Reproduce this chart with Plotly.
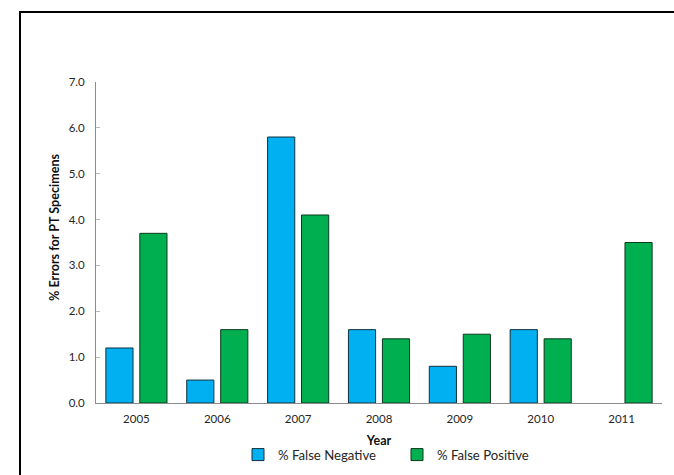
import plotly.graph_objects as go

years = ["2005", "2006", "2007", "2008", "2009", "2010", "2011"]
false_negative = [1.2, 0.5, 5.8, 1.6, 0.8, 1.6, None]
false_positive = [3.7, 1.6, 4.1, 1.4, 1.5, 1.4, 3.5]
y_ticks = [0, 1, 2, 3, 4, 5, 6, 7]

W, H = 674, 475
L, R, T, B = 96, 12, 82, 72
pw, ph = W - L - R, H - T - B

def px_x(p):
    return (p - L) / pw

def px_y(p):
    return (H - B - p) / ph

FONT = "Lato"
TXT = "#262626"

fig = go.Figure()
fig.add_trace(go.Bar(
    x=years, y=false_negative, name="% False Negative",
    marker=dict(color="#00B0F0", line=dict(color="#10303f", width=1)),
))
fig.add_trace(go.Bar(
    x=years, y=false_positive, name="% False Positive",
    marker=dict(color="#00B050", line=dict(color="#0b3a1c", width=1)),
))

fig.update_layout(
    width=W, height=H, autosize=False,
    margin=dict(l=L, r=R, t=T, b=B, autoexpand=False),
    paper_bgcolor="white", plot_bgcolor="white",
    barmode="group", bargap=0.16, bargroupgap=0.2,
    font=dict(family=FONT, size=11.5, color=TXT),
    showlegend=True,
    legend=dict(
        orientation="h", x=px_x(238), xanchor="left", y=px_y(455), yanchor="middle",
        font=dict(family=FONT, size=13.2, color=TXT),
        entrywidth=114, itemwidth=30, bgcolor="rgba(0,0,0,0)",
        traceorder="normal",
    ),
    xaxis=dict(
        showline=True, linecolor="#8c8c8c", linewidth=1,
        ticks="", showgrid=False, zeroline=False,
        tickfont=dict(family=FONT, size=11.5, color=TXT),
        ticklabelstandoff=5,
        title=dict(text="<b>Year</b>", font=dict(family=FONT, size=12.5, color="#111111"), standoff=12),
        fixedrange=True,
    ),
    yaxis=dict(
        range=[0, 7], tickvals=y_ticks, tickformat=".1f",
        showline=True, linecolor="#8c8c8c", linewidth=1,
        ticks="inside", ticklen=4, tickcolor="#b8b8b8",
        ticklabelstandoff=8,
        showgrid=False, zeroline=False,
        tickfont=dict(family=FONT, size=11.5, color=TXT),
        fixedrange=True,
    ),
    annotations=[dict(
        text="<b>% Errors for PT Specimens</b>", textangle=-90,
        xref="paper", yref="paper", x=px_x(54), y=px_y(227),
        xanchor="center", yanchor="middle", showarrow=False,
        font=dict(family=FONT, size=12.6, color="#111111"),
    )],
    shapes=[dict(
        type="rect", xref="paper", yref="paper",
        x0=px_x(20), x1=px_x(690), y0=px_y(12), y1=px_y(490),
        line=dict(color="black", width=2), fillcolor="rgba(0,0,0,0)", layer="above",
    )],
)

fig.write_html("out.html")
